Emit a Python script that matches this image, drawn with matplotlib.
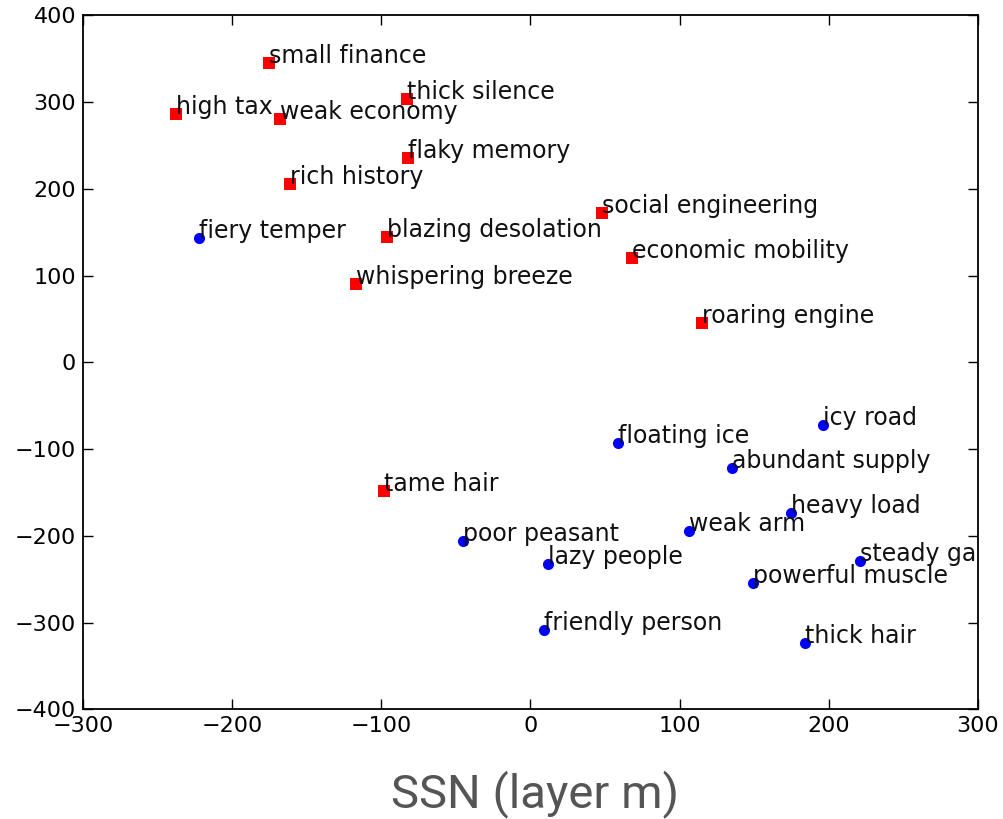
import matplotlib.pyplot as plt

# red squares
red_labels = ['small finance', 'thick silence', 'high tax', 'weak economy', 'flaky memory',
              'rich history', 'blazing desolation', 'social engineering', 'economic mobility',
              'whispering breeze', 'roaring engine', 'tame hair']
red_x = [-175, -83, -238, -168, -82, -161, -96, 48, 68, -117, 115, -98]
red_y = [345, 303, 286, 281, 235, 205, 145, 172, 120, 90, 45, -148]

# blue circles
blue_labels = ['fiery temper', 'icy road', 'floating ice', 'abundant supply', 'heavy load',
               'weak arm', 'poor peasant', 'steady gait', 'lazy people', 'powerful muscle',
               'friendly person', 'thick hair']
blue_x = [-222, 196, 59, 135, 175, 106, -45, 221, 12, 149, 9, 184]
blue_y = [143, -72, -93, -122, -174, -195, -206, -229, -233, -255, -309, -324]

fig = plt.figure(figsize=(10.04, 8.19), dpi=100)
ax = fig.add_axes([0.0827, 0.134, 0.8913, 0.8473])

ax.plot(red_x, red_y, 's', color='red', markersize=8, markeredgewidth=0)
ax.plot(blue_x, blue_y, 'o', color='blue', markersize=8, markeredgewidth=0)
# labels get cut off at the axes box, like in the original
for lab, x, y in zip(red_labels, red_x, red_y):
    ax.annotate(lab, (x, y), fontsize=17, color='#111111', clip_on=True)
for lab, x, y in zip(blue_labels, blue_x, blue_y):
    ax.annotate(lab, (x, y), fontsize=17, color='#111111', clip_on=True)

ax.set_xlim(-300, 300)
ax.set_ylim(-400, 400)
ax.set_xticks(range(-300, 301, 100))
ax.set_yticks(range(-400, 401, 100))
ax.tick_params(direction='in', top=True, right=True, length=7, width=1,
               labelsize=16, pad=5)
for s in ax.spines.values():
    s.set_linewidth(1.3)

fig.text(0.533, 0.0147, 'SSN (layer m)', ha='center', va='baseline',
         fontsize=34, family='Roboto', color='#555555')

fig.savefig('out.png', dpi=100)
